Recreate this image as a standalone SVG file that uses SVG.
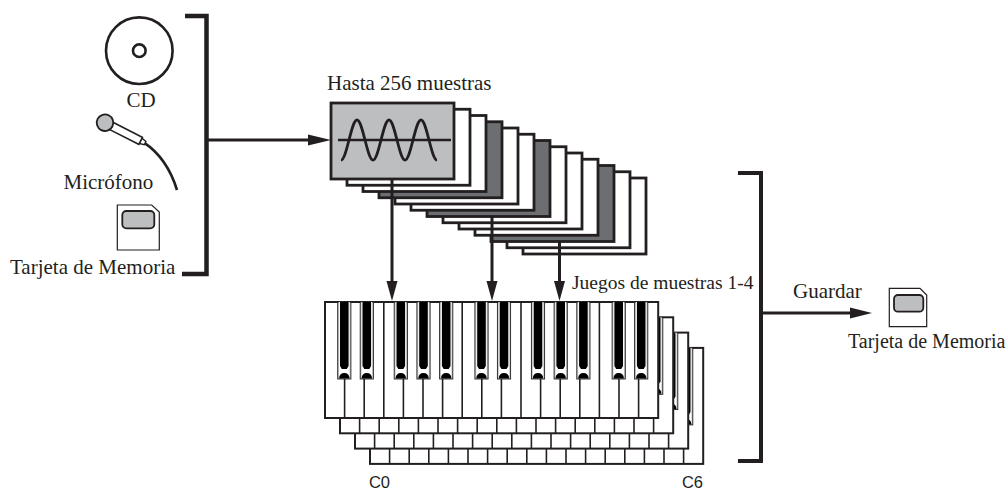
<svg xmlns="http://www.w3.org/2000/svg" xmlns:xlink="http://www.w3.org/1999/xlink" width="1008" height="492" viewBox="0 0 1008 492">
  <style>
    .t { font-family: "Liberation Serif", "Times New Roman", serif; font-size: 21px; fill: #231f20; }
    .s { font-family: "Liberation Sans", Arial, sans-serif; font-size: 16.5px; fill: #231f20; }
    .ln { stroke: #231f20; fill: none; }
    .panel { stroke: #231f20; stroke-width: 2.8; }
    .white { fill: #ffffff; }
    .light { fill: #bcbec0; }
    .dark { fill: #6d6e71; }
    .ah { fill: #231f20; }
  </style>
  <defs>
    <!-- one black key, centred on x = 0 -->
    <g id="bk">
      <rect x="-6.6" y="0" width="13.2" height="77" fill="#c8c9cb" stroke="#231f20" stroke-width="0.9"/>
      <rect x="-5.2" y="0" width="10.4" height="75.5" fill="#ffffff"/>
      <path d="M-4.3,0 V64 L-2.5,67 H2.5 L4.3,64 V0 Z" fill="#000000"/>
      <path d="M-5.2,76.5 Q-5,71 0,71 Q5,71 5.2,76.5 Z" fill="#000000"/>
    </g>
    <!-- a 17-key keyboard, 333.2 x 116 -->
    <g id="kb">
      <rect x="0" y="0" width="333.2" height="116" fill="#ffffff" stroke="#231f20" stroke-width="2"/>
      <g stroke="#231f20" stroke-width="1.6">
        <line x1="58.8" y1="0" x2="58.8" y2="116"/>
        <line x1="137.2" y1="0" x2="137.2" y2="116"/>
        <line x1="196" y1="0" x2="196" y2="116"/>
        <line x1="274.4" y1="0" x2="274.4" y2="116"/>
        <line x1="19.6" y1="77" x2="19.6" y2="116"/>
        <line x1="39.2" y1="77" x2="39.2" y2="116"/>
        <line x1="78.4" y1="77" x2="78.4" y2="116"/>
        <line x1="98" y1="77" x2="98" y2="116"/>
        <line x1="117.6" y1="77" x2="117.6" y2="116"/>
        <line x1="156.8" y1="77" x2="156.8" y2="116"/>
        <line x1="176.4" y1="77" x2="176.4" y2="116"/>
        <line x1="215.6" y1="77" x2="215.6" y2="116"/>
        <line x1="235.2" y1="77" x2="235.2" y2="116"/>
        <line x1="254.8" y1="77" x2="254.8" y2="116"/>
        <line x1="294" y1="77" x2="294" y2="116"/>
        <line x1="313.6" y1="77" x2="313.6" y2="116"/>
      </g>
      <use xlink:href="#bk" x="19.3"/>
      <use xlink:href="#bk" x="41.8"/>
      <use xlink:href="#bk" x="75.8"/>
      <use xlink:href="#bk" x="98.5"/>
      <use xlink:href="#bk" x="121.2"/>
      <use xlink:href="#bk" x="156.5"/>
      <use xlink:href="#bk" x="179"/>
      <use xlink:href="#bk" x="213"/>
      <use xlink:href="#bk" x="235.7"/>
      <use xlink:href="#bk" x="258.4"/>
      <use xlink:href="#bk" x="293.7"/>
      <use xlink:href="#bk" x="316.2"/>
    </g>
    <!-- memory card outline with notched corner -->
    <g id="card-l">
      <path d="M117.3,205 H151.7 L159.3,212 V250 H117.3 Z" fill="#ffffff" stroke="#231f20" stroke-width="1.2"/>
      <rect x="122.3" y="211" width="32" height="17.3" rx="4" class="light" stroke="#231f20" stroke-width="1.8"/>
    </g>
  </defs>

  <!-- sources -->
  <g id="cd">
    <circle cx="139.3" cy="50.7" r="33.3" fill="none" stroke="#231f20" stroke-width="2.6"/>
    <circle cx="139.3" cy="50.7" r="6.3" fill="none" stroke="#231f20" stroke-width="2.6"/>
    <text class="t" x="141" y="107" text-anchor="middle">CD</text>
  </g>

  <g id="microphone">
    <path d="M144,142.7 Q167,158 177,190" class="ln" stroke-width="2.6"/>
    <g transform="translate(105,122.7) rotate(27)">
      <path d="M40,-3 L45,-1.8 V1.8 L40,3 Z" fill="#ffffff" stroke="#231f20" stroke-width="1.4"/>
      <rect x="6" y="-4" width="34" height="8" fill="#ffffff" stroke="#231f20" stroke-width="1.6"/>
      <circle cx="0" cy="0" r="8.3" class="light" stroke="#231f20" stroke-width="1.8"/>
    </g>
    <text class="t" x="63.5" y="189">Micrófono</text>
  </g>

  <g id="card-in">
    <use xlink:href="#card-l"/>
    <text class="t" x="10" y="274">Tarjeta de Memoria</text>
  </g>

  <!-- sample stack, drawn back to front -->
  <g id="samples">
    <rect class="panel white" x="523" y="178" width="123" height="76"/>
    <rect class="panel white" x="507" y="171.75" width="123" height="76"/>
    <rect class="panel dark" x="491" y="165.5" width="123" height="76"/>
    <rect class="panel white" x="475" y="159.25" width="123" height="76"/>
    <rect class="panel white" x="459" y="153" width="123" height="76"/>
    <rect class="panel white" x="443" y="146.75" width="123" height="76"/>
    <rect class="panel dark" x="427" y="140.5" width="123" height="76"/>
    <rect class="panel white" x="411" y="134.25" width="123" height="76"/>
    <rect class="panel white" x="395" y="128" width="123" height="76"/>
    <rect class="panel dark" x="379" y="121.75" width="123" height="76"/>
    <rect class="panel white" x="363" y="115.5" width="123" height="76"/>
    <rect class="panel white" x="347" y="109.25" width="123" height="76"/>
    <rect class="panel light" x="331" y="103" width="123" height="76"/>
    <line x1="338" y1="140" x2="451" y2="140" class="ln" stroke-width="2.6"/>
    <path d="M341,160 C346.8,160 351.2,120 357,120 C362.8,120 367.2,160 373,160 C378.8,160 383.2,120 389,120 C394.8,120 399.2,160 405,160 C410.8,160 415.2,120 421,120 C426.8,120 431.2,160 437,160" class="ln" stroke-width="2.8"/>
    <text class="t" x="327" y="90">Hasta 256 muestras</text>
  </g>

  <!-- keyboards, drawn back to front -->
  <g id="keyboards">
    <use xlink:href="#kb" transform="translate(370,347.9)"/>
    <use xlink:href="#kb" transform="translate(355,332.6)"/>
    <use xlink:href="#kb" transform="translate(340,317.3)"/>
    <use xlink:href="#kb" transform="translate(325,302)"/>
    <text class="t" x="572" y="289" style="font-size:19.5px">Juegos de muestras 1-4</text>
    <text class="s" x="379.5" y="488" text-anchor="middle">C0</text>
    <text class="s" x="692.5" y="488" text-anchor="middle">C6</text>
  </g>

  <g id="card-out">
    <path d="M889.3,288.3 H920 L926.7,295 V326.7 H889.3 Z" fill="#ffffff" stroke="#231f20" stroke-width="1.2"/>
    <rect x="894" y="295" width="29.3" height="16.7" rx="4" class="light" stroke="#231f20" stroke-width="1.8"/>
    <text class="t" x="848" y="348" style="font-size:20px">Tarjeta de Memoria</text>
  </g>

  <!-- brackets and arrows -->
  <g id="connectors">
    <path d="M185,16 H206.5 V274 H182" class="ln" stroke-width="4.5"/>
    <line x1="206" y1="140" x2="312" y2="140" class="ln" stroke-width="3"/>
    <polygon points="308,134.5 331,140 308,145.5" class="ah"/>

    <line x1="392" y1="179" x2="392" y2="285" class="ln" stroke-width="3"/>
    <polygon points="386.5,281 397.5,281 392,301" class="ah"/>
    <line x1="492" y1="216.5" x2="492" y2="285" class="ln" stroke-width="3"/>
    <polygon points="486.5,281 497.5,281 492,301" class="ah"/>
    <line x1="559.5" y1="241.5" x2="559.5" y2="285" class="ln" stroke-width="3"/>
    <polygon points="554,281 565,281 559.5,301" class="ah"/>

    <path d="M738,173 H761 V461 H738" class="ln" stroke-width="4"/>
    <line x1="761" y1="313" x2="854" y2="313" class="ln" stroke-width="3"/>
    <polygon points="850,307.5 872,313 850,318.5" class="ah"/>
    <text class="t" x="793" y="298">Guardar</text>
  </g>
</svg>
